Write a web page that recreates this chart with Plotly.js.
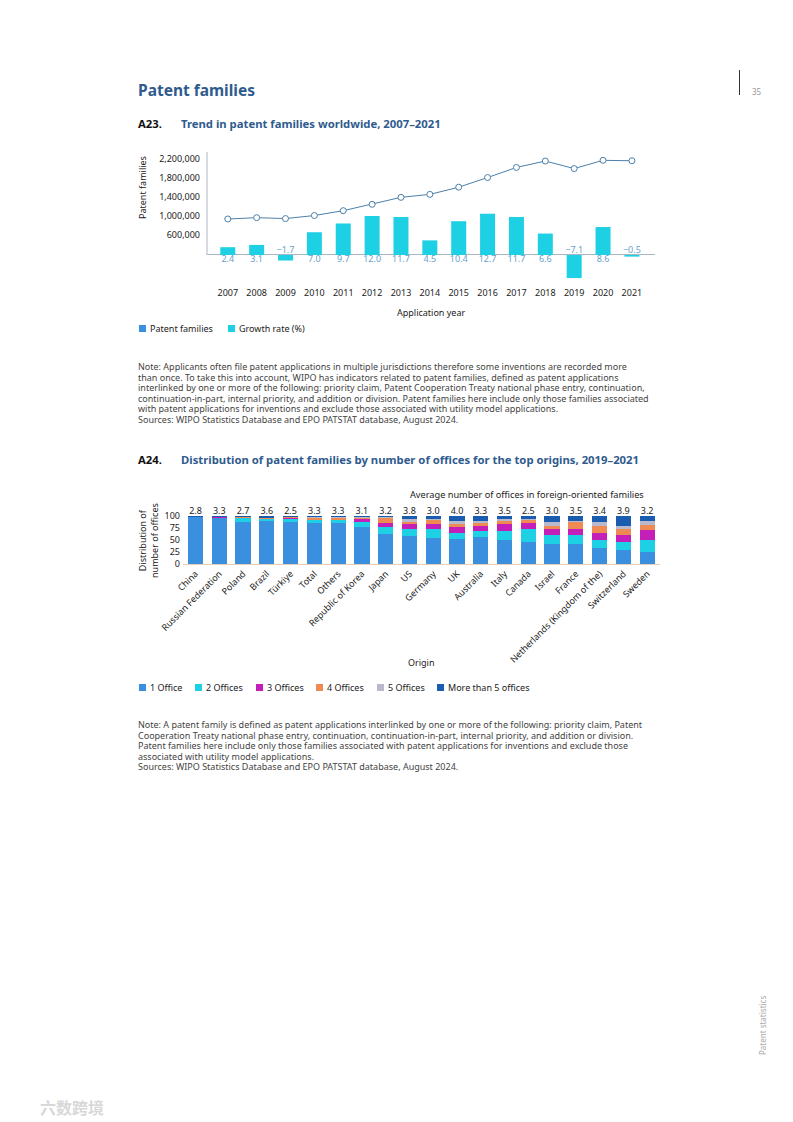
<!DOCTYPE html>
<html>
<head>
<meta charset="utf-8">
<script src="https://cdn.plot.ly/plotly-3.0.1.min.js"></script>
<style>
  html, body { margin:0; padding:0; background:#fff; }
  body { width:793px; height:1122px; position:relative; overflow:hidden; font-family:"Noto Sans", "Open Sans", sans-serif; color:#222; }
  .abs { position:absolute; white-space:nowrap; }
  .h1 { left:138px; top:79px; font-size:15.5px; font-weight:700; color:#2f5b8e; }
  .fig { font-size:11.3px; font-weight:700; }
  .fig .num { position:absolute; left:0; color:#111; }
  .fig .ttl { position:absolute; left:43px; color:#2f5b8e; }
  .note { left:138px; font-size:9px; line-height:10.6px; color:#444; white-space:pre; }
  .leg { font-size:9px; color:#222; }
  .sq { position:absolute; width:7px; height:7px; }
  #c1 { position:absolute; left:0; top:140px; width:793px; height:200px; }
  #c2 { position:absolute; left:0; top:480px; width:793px; height:200px; }
</style>
</head>
<body>
<div class="abs h1">Patent families</div>
<div class="abs" style="left:739px; top:70px; width:1px; height:25px; background:#333;"></div>
<div class="abs" style="left:752px; top:86px; font-size:8px; color:#999;">35</div>

<div class="abs fig" style="left:138px; top:116px;"><span class="num">A23.</span><span class="ttl">Trend in patent families worldwide, 2007–2021</span></div>

<div id="c1"></div>

<div class="abs leg" style="left:0; top:322px; width:793px; height:14px;">
  <span class="sq" style="left:139px; top:3px; background:#3a8fdf;"></span>
  <span class="abs" style="left:150px; top:0;">Patent families</span>
  <span class="sq" style="left:228px; top:3px; background:#1ed0e4;"></span>
  <span class="abs" style="left:239px; top:0;">Growth rate (%)</span>
</div>

<div class="abs note" style="top:362px;">Note: Applicants often file patent applications in multiple jurisdictions therefore some inventions are recorded more
than once. To take this into account, WIPO has indicators related to patent families, defined as patent applications
interlinked by one or more of the following: priority claim, Patent Cooperation Treaty national phase entry, continuation,
continuation-in-part, internal priority, and addition or division. Patent families here include only those families associated
with patent applications for inventions and exclude those associated with utility model applications.
Sources: WIPO Statistics Database and EPO PATSTAT database, August 2024.</div>

<div class="abs fig" style="left:138px; top:452px;"><span class="num">A24.</span><span class="ttl">Distribution of patent families by number of offices for the top origins, 2019–2021</span></div>

<div id="c2"></div>

<div class="abs leg" style="left:0; top:681px; width:793px; height:14px;">
  <span class="sq" style="left:139px; top:3px; background:#3a8fdf;"></span>
  <span class="abs" style="left:150px; top:0;">1 Office</span>
  <span class="sq" style="left:195px; top:3px; background:#1ed0e4;"></span>
  <span class="abs" style="left:206px; top:0;">2 Offices</span>
  <span class="sq" style="left:256px; top:3px; background:#c41fb9;"></span>
  <span class="abs" style="left:267px; top:0;">3 Offices</span>
  <span class="sq" style="left:316px; top:3px; background:#ee8a52;"></span>
  <span class="abs" style="left:327px; top:0;">4 Offices</span>
  <span class="sq" style="left:377px; top:3px; background:#b9b9cd;"></span>
  <span class="abs" style="left:388px; top:0;">5 Offices</span>
  <span class="sq" style="left:437px; top:3px; background:#1a5db0;"></span>
  <span class="abs" style="left:448px; top:0;">More than 5 offices</span>
</div>

<div class="abs note" style="top:720px;">Note: A patent family is defined as patent applications interlinked by one or more of the following: priority claim, Patent
Cooperation Treaty national phase entry, continuation, continuation-in-part, internal priority, and addition or division.
Patent families here include only those families associated with patent applications for inventions and exclude those
associated with utility model applications.
Sources: WIPO Statistics Database and EPO PATSTAT database, August 2024.</div>

<div class="abs" style="left:757px; top:1055px; font-size:8px; color:#aaa; transform:rotate(-90deg); transform-origin:0 0;">Patent statistics</div>
<div class="abs" style="left:40px; top:1095px; font-size:16px; font-weight:700; color:#d8d8d8; font-family:'Noto Sans CJK SC';">六数跨境</div>

<script>
// ---------- A23 data ----------
const years = ['2007','2008','2009','2010','2011','2012','2013','2014','2015','2016','2017','2018','2019','2020','2021'];
const patentFamilies = [937000, 965000, 946000, 1010000, 1112000, 1246000, 1393000, 1455000, 1606000, 1810000, 2022000, 2157000, 1998000, 2172000, 2163000];
const growthRate = [2.4, 3.1, -1.7, 7.0, 9.7, 12.0, 11.7, 4.5, 10.4, 12.7, 11.7, 6.6, -7.1, 8.6, -0.5];
const familyTicks = [600000, 1000000, 1400000, 1800000, 2200000];
const familyTickLabels = ['600,000', '1,000,000', '1,400,000', '1,800,000', '2,200,000'];

// ---------- A24 data ----------
const origins = ['China','Russian Federation','Poland','Brazil','Türkiye','Total','Others','Republic of Korea','Japan','US','Germany','UK','Australia','Italy','Canada','Israel','France','Netherlands (Kingdom of the)','Switzerland','Sweden'];
const office1 = [97, 95, 88, 90, 88, 86, 86, 78, 63, 58, 54, 53, 56, 49, 45, 42, 42, 34, 29, 26];
const office2 = [1, 1, 7, 3, 5, 5, 5, 9, 14, 14, 18, 12, 12, 20, 27, 18, 19, 15, 17, 24];
const office3 = [0.5, 1, 1.5, 1.5, 2, 1.5, 1.5, 6, 8, 11, 12, 12, 12, 14, 14, 12, 12, 16, 14, 21];
const office4 = [0.3, 0.5, 1, 1, 3, 4, 4, 3, 11, 5, 7, 7, 6, 6, 6, 7, 14, 14, 12, 10];
const office5 = [0.2, 0.5, 1, 1, 1, 1.5, 1.5, 2, 1, 5, 3, 5, 3, 4, 2, 9, 3, 9, 8, 8];
const officeMore5 = [1, 2, 1.5, 3.5, 1, 2, 2, 2, 3, 7, 6, 11, 11, 7, 6, 12, 10, 12, 20, 11];
const avgForeign = ['2.8','3.3','2.7','3.6','2.5','3.3','3.3','3.1','3.2','3.8','3.0','4.0','3.3','3.5','2.5','3.0','3.5','3.4','3.9','3.2'];
const distTicks = [0, 25, 50, 75, 100];

const FONT = 'Noto Sans, Open Sans, sans-serif';

// ---------- Chart A23 ----------
(function(){
  const lineColor = '#4b80ab';
  const growthPos = growthRate.map(v => v >= 0 ? 'bottom center' : 'top center');
  const growthTxt = growthRate.map(v => (v < 0 ? '\u2212' + Math.abs(v).toFixed(1) : v.toFixed(1)));
  const traces = [
    { type:'bar', x:years, y:growthRate, yaxis:'y2', marker:{color:'#1ed0e4'}, width:0.52, hoverinfo:'skip', showlegend:false },
    { type:'scatter', mode:'text', x:years, y:growthRate.map(() => 0), yaxis:'y2', text:growthTxt, textposition:growthPos,
      textfont:{family:FONT, size:9, color:'#6a9fca'}, cliponaxis:false, hoverinfo:'skip', showlegend:false },
    { type:'scatter', mode:'lines+markers', x:years, y:patentFamilies, line:{color:lineColor, width:1},
      marker:{symbol:'circle', size:6, color:'#ffffff', line:{color:lineColor, width:1}}, cliponaxis:false, showlegend:false }
  ];
  const layout = {
    width:793, height:200,
    margin:{l:207, r:138, t:12, b:58, autoexpand:false},
    paper_bgcolor:'rgba(0,0,0,0)', plot_bgcolor:'rgba(0,0,0,0)',
    font:{family:FONT, size:9, color:'#222'},
    showlegend:false,
    xaxis:{type:'category', range:[-0.72, 14.8], showgrid:false, zeroline:false, showline:false, ticks:'', tickfont:{size:9, color:'#222'}, ticklabelstandoff:4},
    yaxis:{range:[-389300, 2347200], tickvals:familyTicks, ticktext:familyTickLabels, showgrid:false, zeroline:false, showline:false, ticks:'', tickfont:{size:9, color:'#222'}, ticklabelstandoff:6},
    yaxis2:{overlaying:'y', range:[-8.31, 31.69], showticklabels:false, showgrid:false, zeroline:true, zerolinecolor:'#aab6c2', zerolinewidth:1, showline:false},
    bargap:0.4,
    shapes:[{type:'line', xref:'paper', yref:'y2', x0:0, x1:0, y0:0, y1:31.69, line:{color:'#aab6c2', width:1}}],
    annotations:[
      {xref:'paper', yref:'paper', x:-0.1429, y:0.7308, xanchor:'center', yanchor:'middle', text:'Patent families', textangle:-90, showarrow:false, font:{size:9, color:'#222'}},
      {xref:'paper', yref:'paper', x:0.5, y:-0.2308, xanchor:'center', yanchor:'middle', text:'Application year', showarrow:false, font:{size:9, color:'#222'}}
    ]
  };
  Plotly.newPlot('c1', traces, layout, {staticPlot:true, displayModeBar:false});
})();

// ---------- Chart A24 ----------
(function(){
  const series = [
    {name:'1 Office', y:office1, color:'#3a8fdf'},
    {name:'2 Offices', y:office2, color:'#1ed0e4'},
    {name:'3 Offices', y:office3, color:'#c41fb9'},
    {name:'4 Offices', y:office4, color:'#ee8a52'},
    {name:'5 Offices', y:office5, color:'#b9b9cd'},
    {name:'More than 5 offices', y:officeMore5, color:'#1a5db0'}
  ];
  const traces = series.map(s => ({type:'bar', name:s.name, x:origins, y:s.y, marker:{color:s.color}, width:0.64, hoverinfo:'skip', showlegend:false}));
  traces.push({type:'scatter', mode:'text', x:origins, y:origins.map(() => 100), text:avgForeign, textposition:'top center',
    textfont:{family:FONT, size:9, color:'#222'}, cliponaxis:false, hoverinfo:'skip', showlegend:false});
  const layout = {
    width:793, height:200,
    margin:{l:183, r:133, t:34, b:116, autoexpand:false},
    paper_bgcolor:'rgba(0,0,0,0)', plot_bgcolor:'rgba(0,0,0,0)',
    font:{family:FONT, size:9, color:'#222'},
    barmode:'stack', showlegend:false,
    xaxis:{type:'category', range:[-0.526, 19.54], tickangle:-45, showgrid:false, zeroline:false, showline:true, linecolor:'#e6cdb3', linewidth:1, ticks:'', tickfont:{size:9, color:'#222'}, automargin:false},
    yaxis:{range:[0, 104.2], tickvals:distTicks, showgrid:false, zeroline:false, showline:false, ticks:'', tickfont:{size:9, color:'#222'}, ticklabelstandoff:2},
    annotations:[
      {xref:'paper', yref:'paper', x:-0.0734, y:0.48, xanchor:'center', yanchor:'middle', text:'Distribution of<br>number of offices', textangle:-90, showarrow:false, font:{size:9, color:'#222'}},
      {xref:'paper', yref:'paper', x:0.721, y:1.4, xanchor:'center', yanchor:'middle', text:'Average number of offices in foreign-oriented families', showarrow:false, font:{size:9.2, color:'#222'}},
      {xref:'paper', yref:'paper', x:0.5, y:-1.96, xanchor:'center', yanchor:'middle', text:'Origin', showarrow:false, font:{size:9, color:'#222'}}
    ]
  };
  Plotly.newPlot('c2', traces, layout, {staticPlot:true, displayModeBar:false});
})();
</script>
</body>
</html>
